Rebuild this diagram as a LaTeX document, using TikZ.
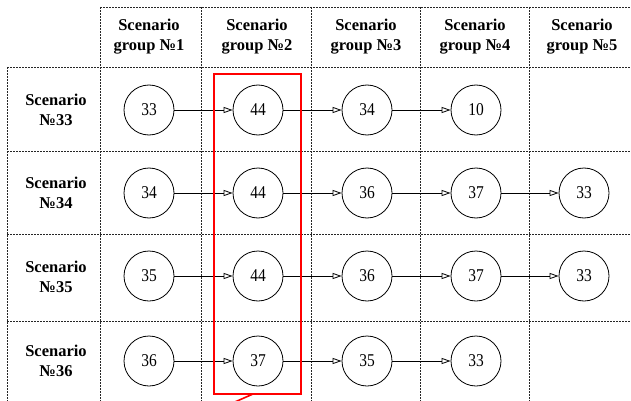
\documentclass[tikz,border=0pt]{standalone}
\usepackage{fontspec}
\setmainfont{Liberation Serif}
\newfontfamily\numfont[FakeStretch=0.86]{Liberation Serif}
\usetikzlibrary{arrows.meta}
\begin{document}
\begin{tikzpicture}[x=1pt,y=-1pt,
  grid/.style={draw=black!85,line width=0.6pt,dash pattern=on 2pt off 1pt},
  head/.style={align=center,font=\fontsize{16.5}{20}\selectfont\bfseries,inner sep=0pt},
  st/.style={circle,draw,line width=0.8pt,minimum size=50pt,inner sep=0pt,font=\numfont\fontsize{18}{20}\selectfont},
  arr/.style={draw,line width=0.8pt,-{Triangle[open,length=9pt,width=6pt]}},
  hl/.style={draw=red,line width=1.6pt}]
\useasboundingbox (0,0) rectangle (631,401);
\clip (0,0) rectangle (631,401);
% grid
\draw[grid] (100,7) -- (631,7);
\draw[grid] (7,67) -- (631,67);
\draw[grid] (7,151) -- (631,151);
\draw[grid] (7,234) -- (631,234);
\draw[grid] (7,321) -- (631,321);
\draw[grid] (7,67) -- (7,401);
\foreach \x in {100,201,311,420,529} \draw[grid] (\x,7) -- (\x,401);
% headers
\node[head] (h1) at (149,37) {Scenario\\group №1};
\node[head] (h2) at (257,37) {Scenario\\group №2};
\node[head] (h3) at (366,37) {Scenario\\group №3};
\node[head] (h4) at (475,37) {Scenario\\group №4};
\node[head] (h5) at (582,37) {Scenario\\group №5};
\node[head] (r1) at (56,110) {Scenario\\№33};
\node[head] (r2) at (56,193) {Scenario\\№34};
\node[head] (r3) at (56,277) {Scenario\\№35};
\node[head] (r4) at (56,361) {Scenario\\№36};
% row 1
\node[st] (a1) at (149,110) {33};
\node[st] (a2) at (258,110) {44};
\node[st] (a3) at (367,110) {34};
\node[st] (a4) at (476,110) {10};
\draw[arr] (a1) -- (a2);
\draw[arr] (a2) -- (a3);
\draw[arr] (a3) -- (a4);
% row 2
\node[st] (b1) at (149,193) {34};
\node[st] (b2) at (258,193) {44};
\node[st] (b3) at (367,193) {36};
\node[st] (b4) at (476,193) {37};
\node[st] (b5) at (584,193) {33};
\draw[arr] (b1) -- (b2);
\draw[arr] (b2) -- (b3);
\draw[arr] (b3) -- (b4);
\draw[arr] (b4) -- (b5);
% row 3
\node[st] (c1) at (149,276) {35};
\node[st] (c2) at (258,276) {44};
\node[st] (c3) at (367,276) {36};
\node[st] (c4) at (476,276) {37};
\node[st] (c5) at (584,276) {33};
\draw[arr] (c1) -- (c2);
\draw[arr] (c2) -- (c3);
\draw[arr] (c3) -- (c4);
\draw[arr] (c4) -- (c5);
% row 4
\node[st] (d1) at (149,361) {36};
\node[st] (d2) at (258,361) {37};
\node[st] (d3) at (367,361) {35};
\node[st] (d4) at (476,361) {33};
\draw[arr] (d1) -- (d2);
\draw[arr] (d2) -- (d3);
\draw[arr] (d3) -- (d4);
% highlight
\node[hl,minimum width=87pt,minimum height=320pt,inner sep=0pt] (box) at (257.5,234) {};
\coordinate (tail) at (228,405);
\draw[hl] (253,394) -- (tail);
\end{tikzpicture}
\end{document}
